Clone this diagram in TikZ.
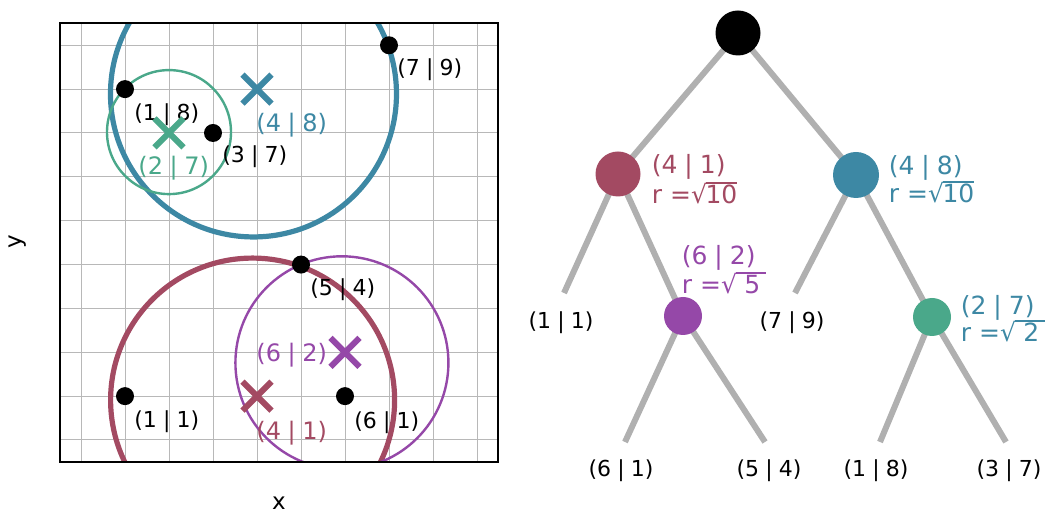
\documentclass[tikz,border=0pt]{standalone}
\usepackage{fontspec}
\setmainfont{DejaVu Sans}
\usetikzlibrary{calc,shapes.misc,backgrounds}

\definecolor{cblue}{RGB}{61,136,164}
\definecolor{cgreen}{RGB}{74,168,138}
\definecolor{cred}{RGB}{163,74,98}
\definecolor{cpurple}{RGB}{149,72,168}
\definecolor{cgrid}{RGB}{184,184,184}
\definecolor{cedge}{RGB}{176,176,176}

\newcommand\lbl[2]{(#1\hspace{0.278em}|\hspace{0.278em}#2)}
\newcommand\rt[1]{\mbox{√\kern-0.06em\setbox0=\hbox{#1}\rlap{\rule[0.80em]{\wd0}{0.07em}}\box0}}

\begin{document}
\begin{tikzpicture}[
  gridline/.style={draw=cgrid,line width=0.5pt},
  frame/.style={draw=black,line width=0.9pt},
  ring/.style={line width=2.6pt},
  thinring/.style={line width=1.2pt},
  dot/.style={circle,fill=black,inner sep=0pt,minimum size=9pt},
  xmk/.style={cross out,draw,line width=3pt,inner sep=0pt,minimum size=11.5pt},
  plbl/.style={font=\fontsize{11}{13}\selectfont,inner sep=0pt,anchor=base west,xshift=4.5pt,yshift=-15.5pt},
  clbl/.style={font=\fontsize{12}{14}\selectfont,inner sep=0pt},
  edge/.style={draw=cedge,line width=3pt},
  tnode/.style={circle,inner sep=0pt},
  tlbl/.style={font=\fontsize{12.5}{14}\selectfont,inner sep=0pt,anchor=base west},
  leaf/.style={font=\fontsize{11}{13}\selectfont,inner sep=0pt,anchor=base},
]
\useasboundingbox (0,0) rectangle (525.5pt,-256.5pt);

% ---------- left: points and circles ----------
\begin{scope}[x=22pt,y=21.93pt,shift={(40.5pt,-220pt)}]
  \begin{scope}
    \clip (-0.477,-0.5) rectangle (9.477,9.51);
    \foreach \i in {0,...,9} {
      \draw[gridline] (\i,-0.5) -- (\i,9.51);
      \draw[gridline] (-0.477,\i) -- (9.477,\i);
    }
    \draw[ring,cblue] (3.92,7.89) circle[radius=71.5pt];
    \draw[thinring,cgreen] (2.0,7.02) circle[radius=31pt];
    \draw[ring,cred] (3.90,0.91) circle[radius=71pt];
    \draw[thinring,cpurple] (5.93,1.76) circle[radius=53.25pt];
  \end{scope}
  \draw[frame] (-0.477,-0.5) rectangle (9.477,9.51);
  \node[font=\fontsize{11.5}{13}\selectfont,inner sep=0pt] (xlab) at (4.5,-1.44) {x};
  \node[font=\fontsize{11.5}{13}\selectfont,inner sep=0pt,rotate=90] (ylab) at (-1.43,4.51) {y};
  % data points
  \node[dot] (p11) at (1,1) {};
  \node[dot] (p18) at (1,8) {};
  \node[dot] (p37) at (3,7) {};
  \node[dot] (p79) at (7,9) {};
  \node[dot] (p54) at (5,4) {};
  \node[dot] (p61) at (6,1) {};
  \node[plbl] at (p11) {\lbl11};
  \node[plbl] at (p18) {\lbl18};
  \node[plbl,yshift=0.5pt] at (p37) {\lbl37};
  \node[plbl,yshift=0.5pt,xshift=-0.5pt] at (p79) {\lbl79};
  \node[plbl] at (p54) {\lbl54};
  \node[plbl,yshift=-0.5pt] at (p61) {\lbl61};
  % centres
  \node[xmk,cblue] (c48) at (4,8) {};
  \node[xmk,cgreen] (c27) at (2,7) {};
  \node[xmk,cred] (c41) at (4,1) {};
  \node[xmk,cpurple] (c62) at (6,2) {};
  \node[clbl,text=cblue,anchor=base west,xshift=-0.5pt,yshift=-21pt] at (c48) {\lbl48};
  \node[clbl,text=cgreen,anchor=base west,xshift=-15.5pt,yshift=-21pt] at (c27) {\lbl27};
  \node[clbl,text=cred,anchor=base west,xshift=-0.5pt,yshift=-21.5pt] at (c41) {\lbl41};
  \node[clbl,text=cpurple,anchor=base east,xshift=-8.75pt,yshift=-4.5pt] at (c62) {\lbl62};
\end{scope}

% ---------- right: tree ----------
\begin{scope}[x=0.5pt,y=-0.5pt]
  \node[tnode,fill=black,minimum size=22.5pt] (root) at (738,33) {};
  \node[tnode,fill=cred,minimum size=22.5pt] (n41) at (618,174) {};
  \node[tnode,fill=cblue,minimum size=23pt] (n48) at (856,175) {};
  \node[tnode,fill=cpurple,minimum size=19pt] (n62) at (683,316) {};
  \node[tnode,fill=cgreen,minimum size=19pt] (n27) at (932,317) {};
  \coordinate (e11) at (564,293);
  \coordinate (e79) at (795,293);
  \coordinate (e61) at (625,442);
  \coordinate (e54) at (765,442);
  \coordinate (e18) at (880,442);
  \coordinate (e37) at (1006,442);
  \begin{scope}[on background layer]
    \draw[edge] (root.center) -- (n41.center);
    \draw[edge] (root.center) -- (n48.center);
    \draw[edge] (n41.center) -- (e11);
    \draw[edge] (n41.center) -- (n62.center);
    \draw[edge] (n48.center) -- (e79);
    \draw[edge] (n48.center) -- (n27.center);
    \draw[edge] (n62.center) -- (e61);
    \draw[edge] (n62.center) -- (e54);
    \draw[edge] (n27.center) -- (e18);
    \draw[edge] (n27.center) -- (e37);
  \end{scope}
  % leaf labels
  \node[leaf] (t11) at (561,329) {\lbl11};
  \node[leaf] (t79) at (792,329) {\lbl79};
  \node[leaf] (t61) at (621,477) {\lbl61};
  \node[leaf] (t54) at (769,477) {\lbl54};
  \node[leaf] (t18) at (876,477) {\lbl18};
  \node[leaf] (t37) at (1009,477) {\lbl37};
  % node labels
  \node[tlbl,text=cred] (a41) at (651.5,174) {\lbl41};
  \node[tlbl,text=cred,yshift=-15pt] (r41) at (a41.base west) {r =\rt{10}};
  \node[tlbl,text=cblue] (a48) at (888.5,175) {\lbl48};
  \node[tlbl,text=cblue,yshift=-14pt] (r48) at (a48.base west) {r =\rt{10}};
  \node[tlbl,text=cpurple] (a62) at (681.5,265) {\lbl62};
  \node[tlbl,text=cpurple,yshift=-14.5pt] (r62) at (a62.base west) {r =\rt{\hspace{0.35em}5\hspace{0.25em}}};
  \node[tlbl,text=cblue] (a27) at (960.5,315) {\lbl27};
  \node[tlbl,text=cblue,yshift=-13.5pt] (r27) at (a27.base west) {r =\rt{\hspace{0.35em}2\hspace{0.25em}}};
\end{scope}
\end{tikzpicture}
\end{document}
